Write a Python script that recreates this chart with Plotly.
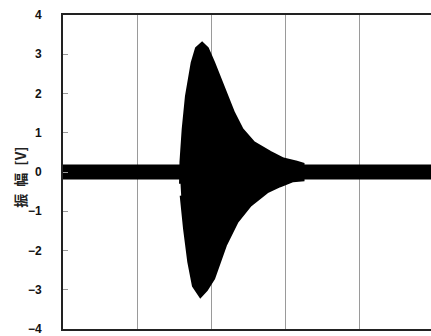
import plotly.graph_objects as go

# Burst envelope (time in grid units, amplitude in V)
upper_t = [1.584, 1.590, 1.620, 1.664, 1.741, 1.799, 1.875, 1.946, 2.031, 2.121, 2.211,
           2.299, 2.412, 2.568, 2.792, 2.970, 3.150, 3.235]
upper_v = [-0.30, 0.25, 1.09, 1.93, 2.78, 3.15, 3.28, 3.15, 2.78, 2.35, 1.93,
           1.51, 1.09, 0.75, 0.50, 0.33, 0.25, 0.20]
lower_t = [1.593, 1.638, 1.695, 1.758, 1.852, 1.933, 2.031, 2.188, 2.345, 2.523,
           2.748, 2.926, 3.101, 3.235]
lower_v = [-0.60, -1.44, -2.29, -2.90, -3.17, -3.00, -2.71, -1.87, -1.27, -0.85,
           -0.51, -0.35, -0.22, -0.20]

# Background noise level (flat trace at 0 V)
baseline_t = [0.0, 5.0]
baseline_v = [0.0, 0.0]

y_ticks = [4, 3, 2, 1, 0, -1, -2, -3, -4]
y_title = "振\u2002幅\u2002[V]"

poly_t = upper_t + lower_t[::-1]
poly_v = upper_v + lower_v[::-1]

fig = go.Figure()
fig.add_trace(go.Scatter(
    x=baseline_t, y=baseline_v, mode="lines",
    line=dict(color="black", width=15), hoverinfo="skip", showlegend=False))
fig.add_trace(go.Scatter(
    x=poly_t, y=poly_v, mode="lines", fill="toself", fillcolor="black",
    line=dict(color="black", width=3),
    hoverinfo="skip", showlegend=False))

fig.update_layout(
    width=431, height=336,
    margin=dict(l=63, r=0, t=15, b=4),
    paper_bgcolor="white", plot_bgcolor="white",
    font=dict(family="Liberation Sans, Arial, sans-serif", color="black", size=12),
    xaxis=dict(range=[0, 4.96], dtick=1, tick0=0, showgrid=True,
               gridcolor="#9a9a9a", gridwidth=1, showticklabels=False,
               ticks="", showline=True, linecolor="#222", linewidth=2,
               mirror=True, zeroline=False),
    yaxis=dict(range=[-4, 4], tickvals=y_ticks,
               ticktext=[str(v) if v >= 0 else "−" + str(-v) for v in y_ticks],
               showgrid=False, zeroline=False, ticks="inside", ticklen=5,
               tickcolor="#999", tickwidth=1, showline=True, linecolor="#222",
               linewidth=2, mirror=False, ticklabelstandoff=17,
               ticklabeloverflow="allow",
               tickfont=dict(size=12, color="#111", weight="bold")),
    annotations=[dict(text=y_title, xref="paper", yref="paper", x=-0.117, y=0.485,
                      xanchor="center", yanchor="middle",
                      textangle=-90, showarrow=False,
                      font=dict(size=14, color="#222", weight="bold",
                                family="Noto Sans CJK JP, sans-serif"))],
)

fig.write_html("out.html", config={"displayModeBar": False},
               post_script="document.body.style.margin='0';")
